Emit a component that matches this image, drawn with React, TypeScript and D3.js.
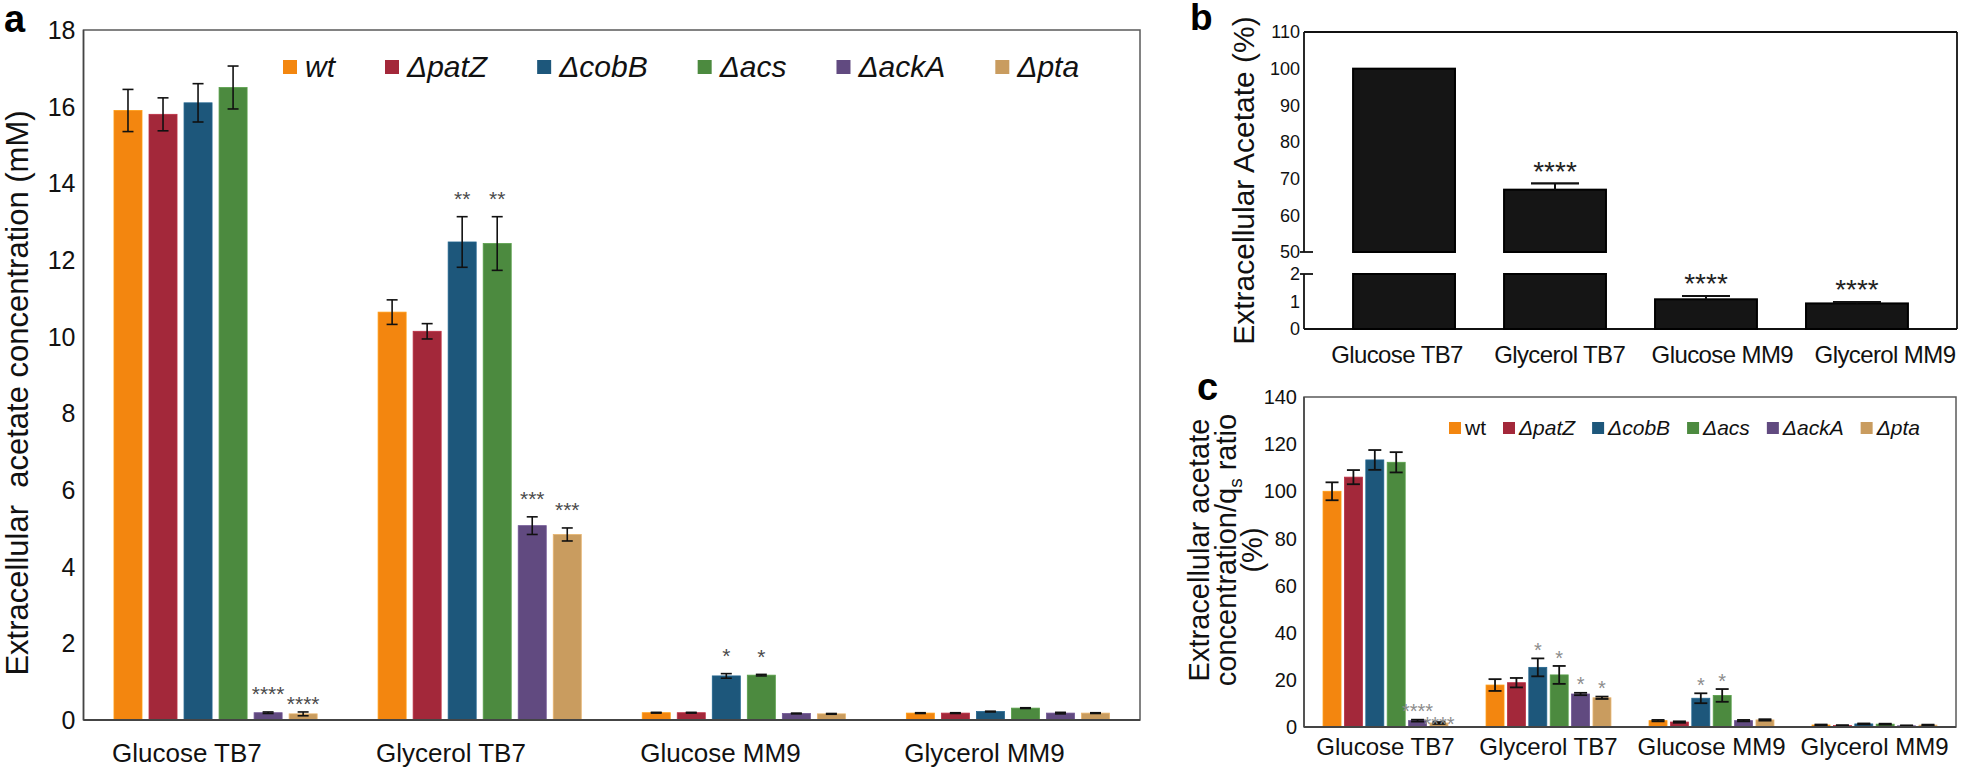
import React, { useEffect, useRef } from 'react';
import * as d3 from 'd3';

// ---------- data ----------
const categories = ['Glucose TB7', 'Glycerol TB7', 'Glucose MM9', 'Glycerol MM9'];
const strains = ['wt', 'ΔpatZ', 'ΔcobB', 'Δacs', 'ΔackA', 'Δpta'];
const strainColors = ['#F3860F', '#A3283A', '#1D577B', '#4C8A3F', '#614A80', '#C99C5F'];

// panel a: extracellular acetate (mM), [category][strain]
const aMeans = [
  [15.9, 15.8, 16.1, 16.5, 0.19, 0.16],
  [10.64, 10.14, 12.47, 12.43, 5.07, 4.84],
  [0.19, 0.19, 1.15, 1.17, 0.17, 0.16],
  [0.18, 0.18, 0.22, 0.31, 0.18, 0.18],
];
const aErrors = [
  [0.55, 0.43, 0.5, 0.56, 0.02, 0.05],
  [0.32, 0.2, 0.66, 0.7, 0.23, 0.17],
  [0.01, 0.01, 0.06, 0.02, 0.01, 0.01],
  [0.01, 0.01, 0.01, 0.01, 0.02, 0.01],
];
const aSig = [
  ['', '', '', '', '****', '****'],
  ['', '', '**', '**', '***', '***'],
  ['', '', '*', '*', '', ''],
  ['', '', '', '', '', ''],
];
const aTicks = [0, 2, 4, 6, 8, 10, 12, 14, 16, 18];

// panel b: extracellular acetate (%), wt only
const bValues = [100, 67, 1.08, 0.93];
const bErrors = [0, 1.7, 0.12, 0.05];
const bSig = ['', '****', '****', '****'];
const bUpperTicks = [50, 60, 70, 80, 90, 100, 110];
const bLowerTicks = [0, 1, 2];

// panel c: extracellular acetate concentration / qs ratio (%)
const cMeans = [
  [100, 106, 113.3, 112.3, 2.7, 1.7],
  [17.8, 18.8, 25.3, 22.1, 14, 12.4],
  [2.7, 2.1, 12.2, 13.4, 2.7, 3.0],
  [0.85, 0.6, 1.3, 1.2, 0.5, 0.8],
];
const cErrors = [
  [3.8, 3.0, 4.2, 4.3, 0.4, 0.4],
  [2.5, 2.0, 3.8, 3.8, 0.5, 0.5],
  [0.3, 0.3, 2.1, 2.7, 0.3, 0.3],
  [0.2, 0.2, 0.2, 0.2, 0.2, 0.2],
];
const cSig = [
  ['', '', '', '', '****', '****'],
  ['', '', '*', '*', '*', '*'],
  ['', '', '*', '*', '', ''],
  ['', '', '', '', '', ''],
];
const cTicks = [0, 20, 40, 60, 80, 100, 120, 140];

const FONT = "'Liberation Sans', Arial, Helvetica, sans-serif";

type Sig = { x: number; y: number; w: number } | null;

export default function App() {
  const ref = useRef<SVGSVGElement>(null);

  useEffect(() => {
    const svg = d3.select(ref.current);
    svg.selectAll('*').remove();
    svg.attr('font-family', FONT);

    // place a significance label above an error bar, staggering it below a neighbour it would collide with
    const placeSig = (g: any, prev: Sig, text: string, cx: number, yc0: number, fs: number, color: string, shift: number): Sig => {
      const w = text.length * 0.389 * fs;
      let yc = yc0;
      if (prev && cx - prev.x < (w + prev.w) / 2 + 3 && Math.abs(yc - prev.y) < fs * 0.5) yc = prev.y + shift;
      g.append('text').attr('x', cx).attr('y', yc + 0.58 * fs).attr('text-anchor', 'middle')
        .attr('font-size', fs).attr('fill', color).text(text);
      return { x: cx, y: yc, w };
    };

    // =============== PANEL A ===============
    const aL = 83.5, aR = 1140, aT = 30, aB = 720;
    const ax = d3.scaleBand<string>().domain(categories).range([aL, aR]).padding(0);
    const axi = d3.scaleBand<string>().domain(strains).range([0, ax.bandwidth()]).paddingInner(0.2).paddingOuter(0.87);
    const ay = d3.scaleLinear().domain([0, 18]).range([aB, aT]);
    const ga = svg.append('g');

    ga.append('rect').attr('x', aL).attr('y', aT).attr('width', aR - aL).attr('height', aB - aT)
      .attr('fill', 'none').attr('stroke', '#5a5a5a').attr('stroke-width', 1.5);

    categories.forEach((cat, ci) => {
      let prev: Sig = null;
      strains.forEach((s, si) => {
        const v = aMeans[ci][si], e = aErrors[ci][si];
        const x = (ax(cat) as number) + (axi(s) as number);
        const w = axi.bandwidth();
        const cx = x + w / 2;
        ga.append('rect').attr('x', x).attr('y', ay(v)).attr('width', w).attr('height', aB - ay(v))
          .attr('fill', strainColors[si]).attr('stroke', d3.color(strainColors[si])!.brighter(0.4).toString()).attr('stroke-width', 0.8);
        const g = ga.append('g').attr('stroke', '#111').attr('stroke-width', 1.6);
        g.append('line').attr('x1', cx).attr('x2', cx).attr('y1', ay(v - e)).attr('y2', ay(v + e));
        g.append('line').attr('x1', cx - 5.5).attr('x2', cx + 5.5).attr('y1', ay(v + e)).attr('y2', ay(v + e));
        g.append('line').attr('x1', cx - 5.5).attr('x2', cx + 5.5).attr('y1', ay(v - e)).attr('y2', ay(v - e));
        if (aSig[ci][si]) prev = placeSig(ga, prev, aSig[ci][si], cx, ay(v + e) - 23, 21, '#4a4a4a', 10);
      });
      ga.append('text').attr('x', (ax(cat) as number) + (axi(strains[0]) as number) - 2).attr('y', 762)
        .attr('font-size', 26).attr('fill', '#111').text(cat);
    });
    ga.append('line').attr('x1', aL).attr('x2', aR).attr('y1', aB).attr('y2', aB).attr('stroke', '#444').attr('stroke-width', 2);
    ga.append('line').attr('x1', aL).attr('x2', aL).attr('y1', aT).attr('y2', aB).attr('stroke', '#444').attr('stroke-width', 1.5);
    aTicks.forEach((t) => {
      ga.append('text').attr('x', aL - 8).attr('y', ay(t)).attr('dy', '0.36em').attr('text-anchor', 'end')
        .attr('font-size', 25).attr('fill', '#111').text(String(t));
    });
    ga.append('text').attr('transform', `translate(28, ${(aT + aB) / 2 + 18}) rotate(-90)`)
      .attr('text-anchor', 'middle').attr('font-size', 31).attr('fill', '#111')
      .style('white-space', 'pre').text('Extracellular  acetate concentration (mM)');
    ga.append('text').attr('x', 4).attr('y', 32).attr('font-size', 38).attr('font-weight', 'bold').text('a');

    // legend a
    let lx = 283;
    strains.forEach((s, si) => {
      ga.append('rect').attr('x', lx).attr('y', 60).attr('width', 14).attr('height', 14).attr('fill', strainColors[si]);
      const t = ga.append('text').attr('x', lx + 22).attr('y', 77).attr('font-size', 30).attr('font-style', 'italic')
        .attr('fill', '#111').text(s);
      const tw = (t.node() as SVGTextElement).getComputedTextLength();
      lx = lx + 22 + tw + 50;
    });

    // =============== PANEL B ===============
    const bL = 1304, bR = 1957, bT = 32, bB = 329, bBreakUp = 252, bBreakLow = 274;
    const bx = d3.scaleBand<string>().domain(categories).range([bL, bR]).paddingInner(0.325).paddingOuter(0.325);
    const byU = d3.scaleLinear().domain([50, 110]).range([bBreakUp, bT]);
    const byL = d3.scaleLinear().domain([0, 2]).range([bB, bBreakLow]);
    const gb = svg.append('g');
    const ink = (sel: any, w = 1.8) => sel.attr('stroke', '#111').attr('stroke-width', w);
    ink(gb.append('line').attr('x1', bL).attr('x2', bR).attr('y1', bT).attr('y2', bT));
    ink(gb.append('line').attr('x1', bR).attr('x2', bR).attr('y1', bT).attr('y2', bB));
    ink(gb.append('line').attr('x1', bL).attr('x2', bR).attr('y1', bB).attr('y2', bB), 2);
    ink(gb.append('line').attr('x1', bL).attr('x2', bL).attr('y1', bT).attr('y2', bBreakUp));
    ink(gb.append('line').attr('x1', bL).attr('x2', bL).attr('y1', bBreakLow).attr('y2', bB));
    ink(gb.append('line').attr('x1', bL - 4).attr('x2', bL + 9).attr('y1', byU(50)).attr('y2', byU(50)));
    ink(gb.append('line').attr('x1', bL - 4).attr('x2', bL + 9).attr('y1', byL(2)).attr('y2', byL(2)));

    categories.forEach((cat, i) => {
      const v = bValues[i], e = bErrors[i];
      const x = bx(cat) as number, w = bx.bandwidth(), cx = x + w / 2;
      const barStyle = (r: any) => r.attr('fill', '#151515').attr('stroke', '#000').attr('stroke-width', 2);
      let topY: number, errY: number;
      if (v > 2) {
        barStyle(gb.append('rect').attr('x', x).attr('y', byL(2)).attr('width', w).attr('height', bB - byL(2)));
        barStyle(gb.append('rect').attr('x', x).attr('y', byU(v)).attr('width', w).attr('height', byU(50) - byU(v)));
        topY = byU(v); errY = byU(v + e);
      } else {
        barStyle(gb.append('rect').attr('x', x).attr('y', byL(v)).attr('width', w).attr('height', bB - byL(v)));
        topY = byL(v); errY = byL(v + e);
      }
      if (e > 0) {
        ink(gb.append('line').attr('x1', cx).attr('x2', cx).attr('y1', topY).attr('y2', errY), 2);
        ink(gb.append('line').attr('x1', cx - 24).attr('x2', cx + 24).attr('y1', errY).attr('y2', errY), 2.2);
      }
      if (bSig[i]) placeSig(gb, null, bSig[i], cx, errY - 19, 28, '#222', 0);
    });
    const bLab = d3.scalePoint<string>().domain(categories)
      .range([(bx(categories[0]) as number) + bx.bandwidth() / 2 - 7, bR - 72]);
    categories.forEach((cat) => {
      gb.append('text').attr('x', bLab(cat) as number).attr('y', 363).attr('text-anchor', 'middle')
        .attr('font-size', 24).attr('fill', '#111').attr('letter-spacing', -0.6).text(cat);
    });
    bUpperTicks.forEach((t) => {
      gb.append('text').attr('x', bL - 4).attr('y', byU(t)).attr('dy', '0.36em').attr('text-anchor', 'end')
        .attr('font-size', 18).attr('fill', '#111').text(String(t));
    });
    bLowerTicks.forEach((t) => {
      gb.append('text').attr('x', bL - 4).attr('y', byL(t)).attr('dy', '0.36em').attr('text-anchor', 'end')
        .attr('font-size', 18).attr('fill', '#111').text(String(t));
    });
    gb.append('text').attr('transform', `translate(1254, ${(bT + bB) / 2}) rotate(-90)`)
      .attr('text-anchor', 'middle').attr('font-size', 30).attr('fill', '#111').text('Extracellular Acetate (%)');
    gb.append('text').attr('x', 1190).attr('y', 30).attr('font-size', 37).attr('font-weight', 'bold').text('b');

    // =============== PANEL C ===============
    const cL = 1304, cR = 1956, cT = 397, cB = 727;
    const cx0 = d3.scaleBand<string>().domain(categories).range([cL, cR]).padding(0);
    const cxi = d3.scaleBand<string>().domain(strains).range([0, cx0.bandwidth()]).paddingInner(0.159).paddingOuter(0.89);
    const cy = d3.scaleLinear().domain([0, 140]).range([cB, cT]);
    const gc = svg.append('g');
    gc.append('rect').attr('x', cL).attr('y', cT).attr('width', cR - cL).attr('height', cB - cT)
      .attr('fill', 'none').attr('stroke', '#5a5a5a').attr('stroke-width', 1.5);

    categories.forEach((cat, ci) => {
      let prev: Sig = null;
      strains.forEach((s, si) => {
        const v = cMeans[ci][si], e = cErrors[ci][si];
        const x = (cx0(cat) as number) + (cxi(s) as number);
        const w = cxi.bandwidth();
        const cx = x + w / 2;
        gc.append('rect').attr('x', x).attr('y', cy(v)).attr('width', w).attr('height', cB - cy(v))
          .attr('fill', strainColors[si]).attr('stroke', d3.color(strainColors[si])!.brighter(0.4).toString()).attr('stroke-width', 0.8);
        const g = gc.append('g').attr('stroke', '#111').attr('stroke-width', 1.8);
        const lo = cy(Math.max(0, v - e)), hi = cy(v + e);
        g.append('line').attr('x1', cx).attr('x2', cx).attr('y1', lo).attr('y2', hi);
        g.append('line').attr('x1', cx - 6.5).attr('x2', cx + 6.5).attr('y1', hi).attr('y2', hi);
        g.append('line').attr('x1', cx - 6.5).attr('x2', cx + 6.5).attr('y1', lo).attr('y2', lo);
        if (cSig[ci][si]) prev = placeSig(gc, prev, cSig[ci][si], cx, hi - 13, 20, '#8c8c8c', 13);
      });
      gc.append('text').attr('x', (cx0(cat) as number) + cx0.bandwidth() / 2).attr('y', 755).attr('text-anchor', 'middle')
        .attr('font-size', 24).attr('fill', '#111').text(cat);
    });
    gc.append('line').attr('x1', cL).attr('x2', cR).attr('y1', cB).attr('y2', cB).attr('stroke', '#444').attr('stroke-width', 2);
    gc.append('line').attr('x1', cL).attr('x2', cL).attr('y1', cT).attr('y2', cB).attr('stroke', '#444').attr('stroke-width', 1.5);
    cTicks.forEach((t) => {
      gc.append('text').attr('x', cL - 7).attr('y', cy(t)).attr('dy', '0.36em').attr('text-anchor', 'end')
        .attr('font-size', 20).attr('fill', '#111').text(String(t));
    });
    const cMid = (cT + cB) / 2 - 12;
    gc.append('text').attr('transform', `translate(1209, ${cMid}) rotate(-90)`)
      .attr('text-anchor', 'middle').attr('font-size', 29).attr('fill', '#111').text('Extracellular acetate');
    const l2 = gc.append('text').attr('transform', `translate(1236, ${cMid}) rotate(-90)`)
      .attr('text-anchor', 'middle').attr('font-size', 29).attr('fill', '#111');
    l2.append('tspan').text('concentration/q');
    l2.append('tspan').attr('font-size', 19).attr('dy', 6).text('s');
    l2.append('tspan').attr('dy', -6).text(' ratio');
    gc.append('text').attr('transform', `translate(1262, ${cMid}) rotate(-90)`)
      .attr('text-anchor', 'middle').attr('font-size', 29).attr('fill', '#111').text('(%)');
    gc.append('text').attr('x', 1197).attr('y', 400).attr('font-size', 38).attr('font-weight', 'bold').text('c');

    // legend c
    let cxl = 1449;
    strains.forEach((s, si) => {
      gc.append('rect').attr('x', cxl).attr('y', 422).attr('width', 12).attr('height', 12).attr('fill', strainColors[si]);
      const t = gc.append('text').attr('x', cxl + 16).attr('y', 435).attr('font-size', 21)
        .attr('font-style', si === 0 ? 'normal' : 'italic').attr('fill', '#111').text(s);
      const tw = (t.node() as SVGTextElement).getComputedTextLength();
      cxl = cxl + 16 + tw + 17;
    });
  }, []);

  return (
    <svg ref={ref} width={1961} height={771}
      style={{ position: 'absolute', left: 0, top: 0, background: '#fff' }} />
  );
}
